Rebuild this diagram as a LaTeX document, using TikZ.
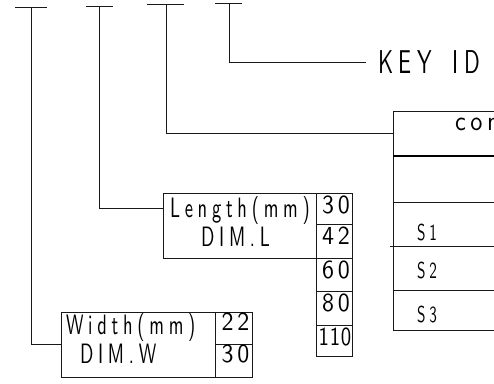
\documentclass[tikz,border=0pt]{standalone}
\usepackage{fontspec}
\usetikzlibrary{calc}
\newfontfamily\cadf[LetterSpace=17,FakeStretch=0.66]{lmsans10-regular.otf}
\newfontfamily\cadcon[LetterSpace=17,FakeStretch=0.9]{lmsans10-regular.otf}
\newfontfamily\caddig[LetterSpace=15,FakeStretch=0.92]{lmsans10-regular.otf}
\newfontfamily\cadtight[LetterSpace=3,FakeStretch=0.8]{lmsans10-regular.otf}
\begin{document}
\begin{tikzpicture}[x=1pt,y=-1pt,
  ln/.style={draw=black!90, line width=1pt},
  cell/.style n args={2}{draw=black!90, line width=1pt, minimum width=#1pt, minimum height=#2pt, inner sep=0pt, outer sep=0pt},
  txt/.style={inner sep=0pt, outer sep=0pt, font=\cadf\fontsize{28}{31}\selectfont},
  dig/.style={inner sep=0pt, outer sep=0pt, anchor=base, font=\caddig\fontsize{26}{29}\selectfont},
  digt/.style={dig, font=\cadtight\fontsize{26}{29}\selectfont},
  stxt/.style={inner sep=0pt, outer sep=0pt, anchor=base west, font=\cadf\fontsize{23}{26}\selectfont},
  contxt/.style={inner sep=0pt, outer sep=0pt, anchor=base west, font=\cadcon\fontsize{27}{30}\selectfont},
  keytxt/.style={inner xsep=12pt, inner ysep=0pt, outer sep=0pt, anchor=west, font=\cadf\fontsize{33}{36}\selectfont}]
\useasboundingbox (0,0) rectangle (494,383);
\clip (0,0) rectangle (494,383);

% T heads
\coordinate (t1) at (31,7);
\coordinate (t2) at (99,6);
\coordinate (t3) at (166,4);
\coordinate (t4) at (229,3);
\draw[ln] ($(t1)+(-16,0)$) -- ($(t1)+(16,0)$);
\draw[ln] ($(t2)+(-13,0)$) -- ($(t2)+(14,0)$);
\draw[ln] ($(t3)+(-19,0)$) -- ($(t3)+(18,0)$);
\draw[ln] ($(t4)+(-14,0)$) -- ($(t4)+(13,0)$);

% KEY ID
\node[keytxt] (key) at (366,62.5) {KEY\hspace{8pt} ID};

% connector box (right)
\node[cell={127}{45}] (c1) at (456.5,133.5) {};
\node[cell={127}{46}] (c2) at (456.5,179) {};
\node[cell={127}{44}] (c3) at (456.5,224) {};
\node[cell={127}{44}] (c4) at (456.5,268) {};
\node[cell={127}{40}] (c5) at (456.5,310) {};
\draw[line width=2pt, black] (c2.north west) -- (c2.north east);
\draw[ln] ($(c4.north west)+(-3,0)$) -- (c4.north west);
\node[contxt] (con) at (455,130) {con};
\node[stxt] (s1) at (417,240) {S1};
\node[stxt] (s2) at (417,278) {S2};
\node[stxt] (s3) at (417,322) {S3};

% Length box
\node[cell={153}{65}] (lbox) at (239.5,225.5) {};
\node[cell={36}{31}] (n30) at (334,208.5) {};
\node[cell={36}{34}] (n42) at (334,241) {};
\node[cell={36}{33}] (n60) at (334,274.5) {};
\node[cell={36}{34}] (n80) at (334,308) {};
\node[cell={36}{31}] (n110) at (334,340.5) {};
\node[txt, anchor=base west] (ltxt) at (170,217) {Length(mm)};
\node[txt, anchor=base west] (ldim) at (201,246) {DIM.L};
\node[dig] at (336,213) {30};
\node[dig] at (336,244) {42};
\node[dig] at (336,278) {60};
\node[dig] at (336,311) {80};
\node[digt] at (335,345) {110};

% Width box
\node[cell={154}{65}] (wbox) at (138,344.5) {};
\node[cell={37}{32}] (n22) at (233.5,328) {};
\node[cell={37}{33}] (n30w) at (233.5,360.5) {};
\node[txt, anchor=base west] (wtxt) at (66,334) {Width(mm)};
\node[txt, anchor=base west] (wdim) at (80,363) {DIM.W};
\node[dig] at (235.5,330) {22};
\node[dig] at (235.5,362) {30};

% connectors
\draw[ln] (t1) |- (wbox.west);
\draw[ln] (t2) |- (lbox.west |- n30.center);
\draw[ln] (t3) |- (c1.west);
\draw[ln] (t4) |- (key.west);
\end{tikzpicture}
\end{document}
